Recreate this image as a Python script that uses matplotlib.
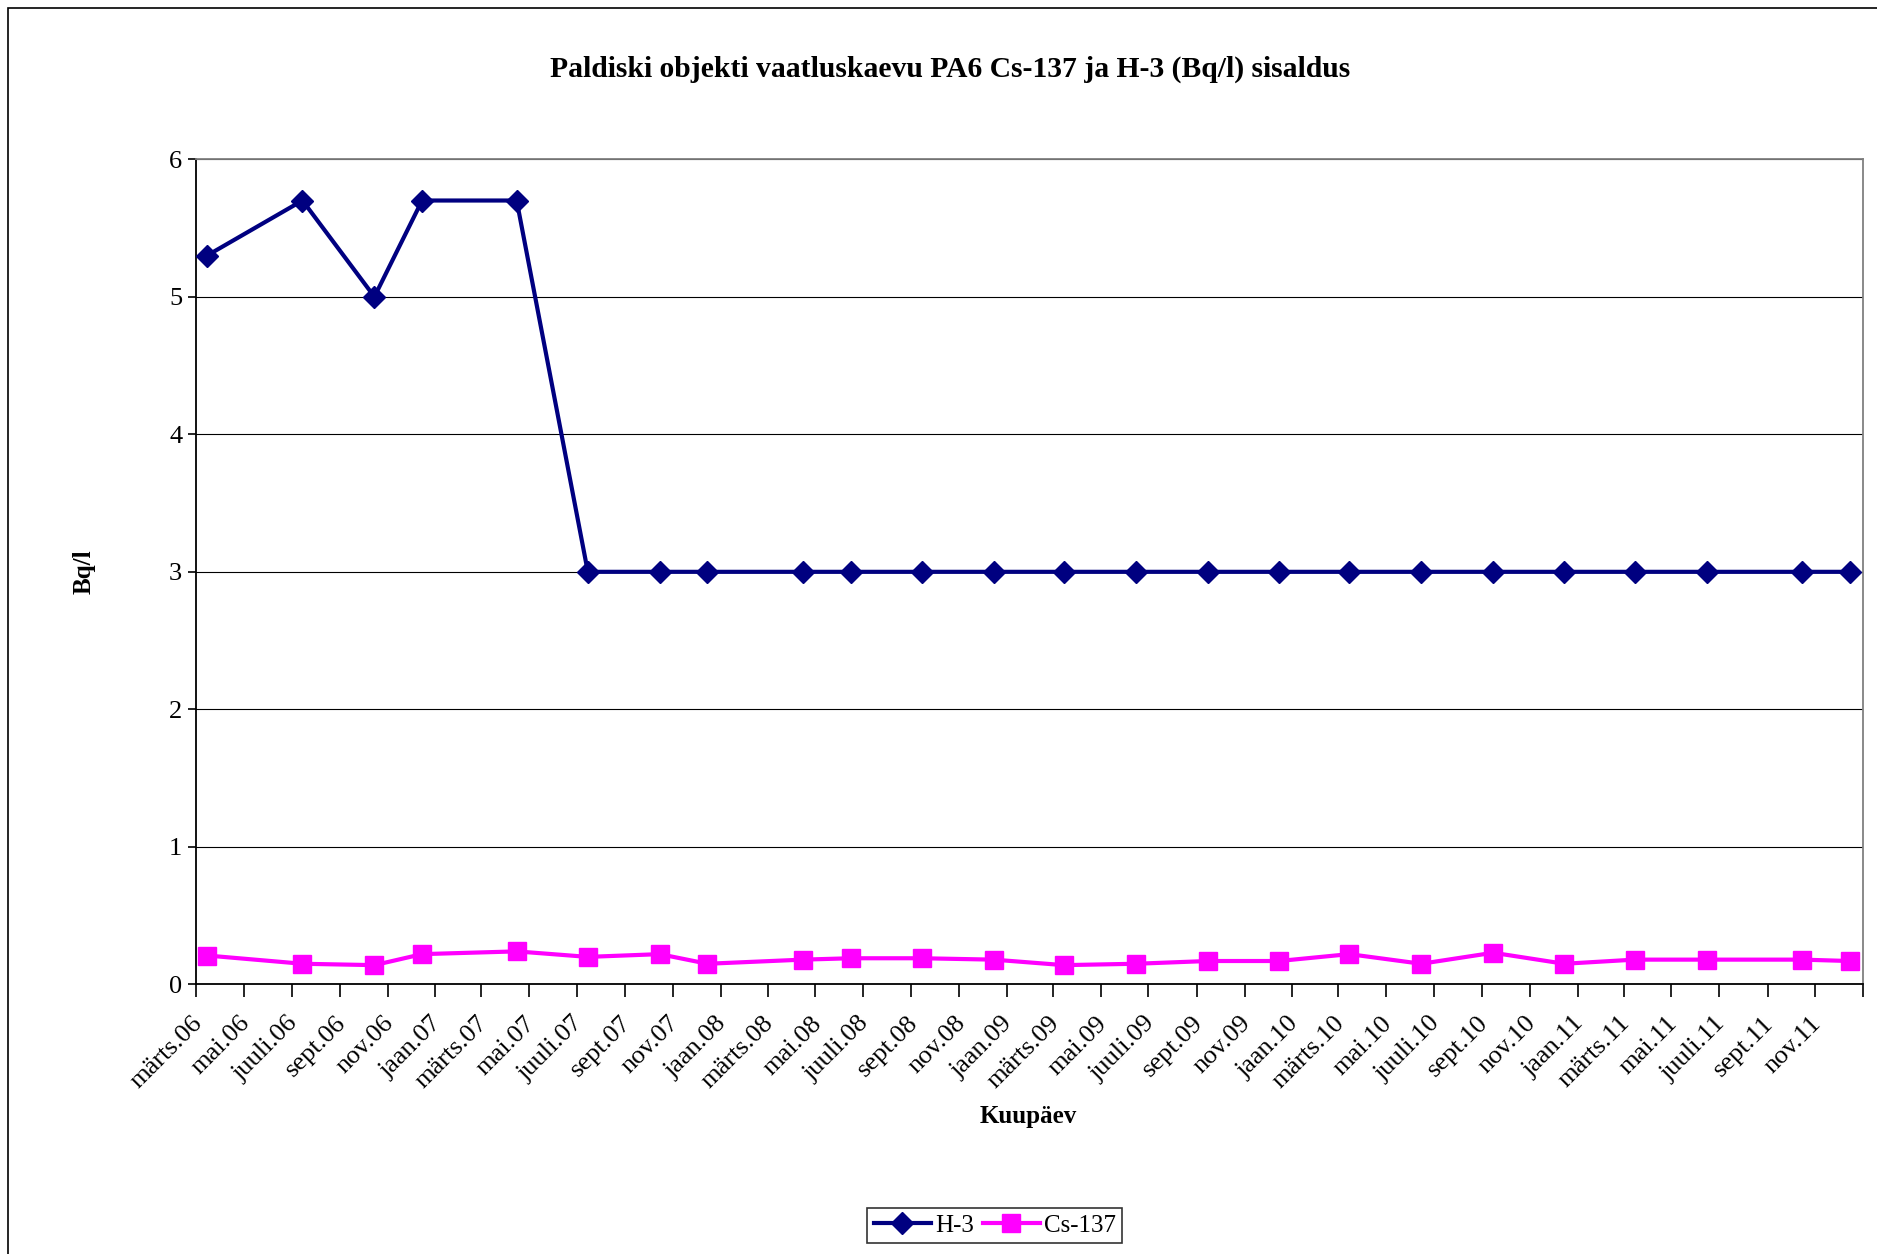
import matplotlib
matplotlib.use("Agg")
import matplotlib.pyplot as plt
import matplotlib.dates as mdates
from matplotlib.patches import Rectangle
import matplotlib.transforms as mtransforms
import datetime as dt

plt.rcParams['font.family'] = ['Liberation Serif', 'DejaVu Serif']

# ---- data ----
dates = ["2006-03-15", "2006-07-15", "2006-10-15", "2006-12-15", "2007-04-15",
         "2007-07-15", "2007-10-15", "2007-12-15", "2008-04-15", "2008-06-15",
         "2008-09-15", "2008-12-15", "2009-03-15", "2009-06-15", "2009-09-15",
         "2009-12-15", "2010-03-15", "2010-06-15", "2010-09-15", "2010-12-15",
         "2011-03-15", "2011-06-15", "2011-10-15", "2011-12-15"]
h3 = [5.3, 5.7, 5.0, 5.7, 5.7, 3, 3, 3, 3, 3, 3, 3, 3, 3, 3, 3, 3, 3, 3, 3, 3, 3, 3, 3]
cs137 = [0.21, 0.15, 0.14, 0.22, 0.24, 0.20, 0.22, 0.15, 0.18, 0.19, 0.19, 0.18,
         0.14, 0.15, 0.17, 0.17, 0.22, 0.15, 0.23, 0.15, 0.18, 0.18, 0.18, 0.17]
month_names = {1: "jaan", 3: "märts", 5: "mai", 7: "juuli", 9: "sept", 11: "nov"}
y_ticks = [0, 1, 2, 3, 4, 5, 6]

title = "Paldiski objekti vaatluskaevu PA6 Cs-137 ja H-3 (Bq/l) sisaldus"
x_label = "Kuupäev"
y_label = "Bq/l"

x = [dt.datetime.strptime(d, "%Y-%m-%d") for d in dates]

fig = plt.figure(figsize=(18.77, 12.54), dpi=100)
ax = fig.add_axes([0.1045, 0.215, 0.888, 0.658])

ax.plot(x, h3, color="#000080", lw=3.0, marker="D", markersize=11,
        label="H-3", zorder=3, clip_on=False)
ax.plot(x, cs137, color="#FF00FF", lw=3.0, marker="s", markersize=13,
        label="Cs-137", zorder=3, clip_on=False)

ax.set_xlim(dt.datetime(2006, 3, 1), dt.datetime(2012, 1, 1))
ax.set_ylim(0, 6)
ax.set_yticks(y_ticks)
ax.yaxis.grid(True, color="#000000", lw=0.8)
ax.set_axisbelow(True)

ax.xaxis.set_major_locator(mdates.MonthLocator(bymonth=[1, 3, 5, 7, 9, 11]))
ticks = ax.get_xticks()
labels = []
for t in ticks:
    d = mdates.num2date(t)
    if d.year == 2012:
        labels.append("")
    else:
        labels.append(f"{month_names[d.month]}.{d.year % 100:02d}")
ax.set_xticks(ticks)
ax.set_xticklabels(labels, rotation=45, ha="right", rotation_mode="anchor",
                   fontsize=19)
ax.tick_params(axis="x", direction="out", length=9, width=1.2, pad=11)
ax.tick_params(axis="y", direction="out", length=6, width=1.2, labelsize=19, pad=4)
offset = mtransforms.ScaledTranslation(-5 / 100, 0, fig.dpi_scale_trans)
for lab in ax.get_xticklabels():
    lab.set_transform(lab.get_transform() + offset)

for s in ["left", "bottom"]:
    ax.spines[s].set_color("black")
    ax.spines[s].set_linewidth(1.3)
for s in ["top", "right"]:
    ax.spines[s].set_color("#808080")
    ax.spines[s].set_linewidth(1.3)

fig.text(0.506, 0.945, title, ha="center", va="center", fontsize=21.3,
         fontweight="bold")
fig.text(0.548, 0.110, x_label, ha="center", va="center", fontsize=18,
         fontweight="bold")
fig.text(0.045, 0.544, y_label, ha="center", va="center", fontsize=18,
         fontweight="bold", rotation=90)

leg = fig.legend(loc="center", bbox_to_anchor=(0.530, 0.0225), ncol=2,
                 fontsize=18, frameon=True, fancybox=False, handlelength=2.3,
                 handletextpad=0.15, columnspacing=0.35, borderpad=0.25,
                 borderaxespad=0)
leg.get_frame().set_edgecolor("black")
leg.get_frame().set_linewidth(1.2)

fig.patches.append(Rectangle((0.0043, -0.05), 1.2, 1.0436, transform=fig.transFigure,
                             fill=False, edgecolor="black", lw=1.2))

fig.savefig("out.png", dpi=100)
